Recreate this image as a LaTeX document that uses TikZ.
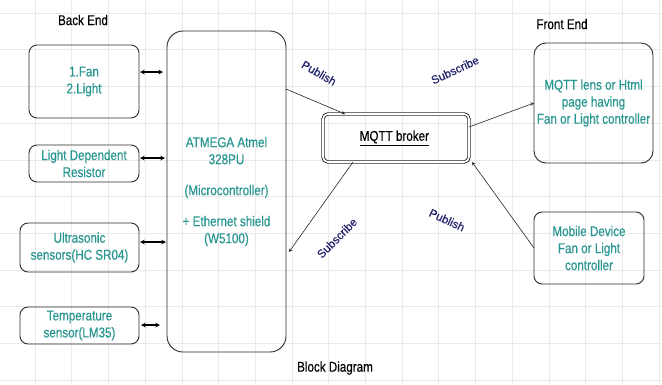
\documentclass[tikz,border=0pt]{standalone}
\usepackage{fontspec}
\setmainfont{Liberation Sans}[FakeStretch=0.82, FakeBold=0.4]
\newfontfamily\tagfont{Liberation Sans}[FakeBold=0.6]
\usetikzlibrary{positioning,arrows}
\definecolor{tealtext}{RGB}{40,150,145}
\definecolor{navytag}{RGB}{35,35,110}
\definecolor{boxline}{RGB}{45,45,45}
\definecolor{gridgray}{RGB}{234,234,234}
\tikzstyle{block}=[
	rectangle,
	draw=boxline,
	line width=0.9pt,
	rounded corners=8pt,
	align=center,
	text=tealtext,
	inner sep=0pt,
	outer sep=0pt
	]
\tikzstyle{heading}=[text=black]
\tikzstyle{tag}=[text=navytag, font=\tagfont\fontsize{11.5}{13}\selectfont]
\tikzstyle{link}=[<->, >=stealth, line width=1.1pt]
\tikzstyle{flow}=[->, >=stealth, line width=0.6pt, draw=black!85]

\begin{document}
\begin{tikzpicture}[x=1pt, y=-1pt, font=\fontsize{14.2}{17}\selectfont]

		\useasboundingbox (0,0) rectangle (662,384);
		\fill[white] (0,0) rectangle (662,384);
		\foreach \gx in {0,...,18}
			\draw[gridgray, line width=0.5pt] ({-1.7+36.7*\gx},0) -- ++(0,384);
		\foreach \gy in {0,...,10}
			\draw[gridgray, line width=0.5pt] (0,{13+36.7*\gy}) -- ++(662,0);

		% back end
		\node (BackEnd) [heading] at (83,20) {Back End};

		\node (Micro) [block, rounded corners=16pt, minimum width=119pt, minimum height=321pt] at (226.5,191.5) {
			ATMEGA Atmel \\ 328PU \\[14pt] (Microcontroller) \\[14pt] + Ethernet shield \\ (W5100)
		};

		\node (Fan) [block, minimum width=110pt, minimum height=73pt] at (84,81.5) {
			1.Fan \\ 2.Light
		};

		\node (Ldr) [block, minimum width=110pt, minimum height=37pt, below=27pt of Fan] {
			Light Dependent \\ Resistor
		};

		\node (Ultra) [block, minimum width=119pt, minimum height=49pt] at (79.5,247.5) {
			Ultrasonic \\ sensors(HC SR04)
		};

		\node (Temp) [block, minimum width=119pt, minimum height=37pt, below=35pt of Ultra] {
			Temperature \\ sensor(LM35)
		};

		% broker and front end
		\node (Broker) [block, text=black, rounded corners=5pt, double, double distance=1.6pt, minimum width=146pt, minimum height=48pt] at (396,138) {
			\underline{MQTT broker}
		};

		\node (FrontEnd) [heading] at (562,24) {Front End};

		\node (Front) [block, rounded corners=12pt, minimum width=119pt, minimum height=120pt] at (593.5,103) {
			MQTT lens or Html \\ page having \\ Fan or Light controller
		};

		\node (Mobile) [block, minimum width=110pt, minimum height=72pt] at (589,248) {
			Mobile Device \\ Fan or Light \\ controller
		};

		\node (Caption) [heading] at (335,368) {Block Diagram};

		% links to the microcontroller
		\draw[link, shorten >=4pt, shorten <=1pt] ([yshift=9.5pt]Fan.east) -- ([yshift=9.5pt]Fan.east -| Micro.west);
		\draw[link, shorten >=2pt, shorten <=1pt] ([yshift=5.5pt]Ldr.east) -- ([yshift=5.5pt]Ldr.east -| Micro.west);
		\draw[link, shorten >=1pt, shorten <=1pt] ([yshift=5.5pt]Ultra.east) -- ([yshift=5.5pt]Ultra.east -| Micro.west);
		\draw[link, shorten >=7pt, shorten <=2pt] ([yshift=0.5pt]Temp.east) -- ([yshift=0.5pt]Temp.east -| Micro.west);

		% publish / subscribe
		\draw[flow] ([yshift=102.5pt]Micro.east) -- ([xshift=-51pt]Broker.north);
		\draw[flow] ([yshift=11pt]Broker.east) -- (Front.west);
		\draw[flow] (Mobile.west) -- ([xshift=3pt]Broker.south east);
		\draw[flow] ([xshift=-43pt]Broker.south) -- ([yshift=-60.5pt, xshift=3pt]Micro.east);

		\node (PubUp) [tag, rotate=-30] at (319,73) {Publish};
		\node (SubUp) [tag, rotate=25] at (455,70) {Subscribe};
		\node (SubDown) [tag, rotate=45] at (337,238) {Subscribe};
		\node (PubDown) [tag, rotate=-25] at (447,220) {Publish};

	\end{tikzpicture}
\end{document}
